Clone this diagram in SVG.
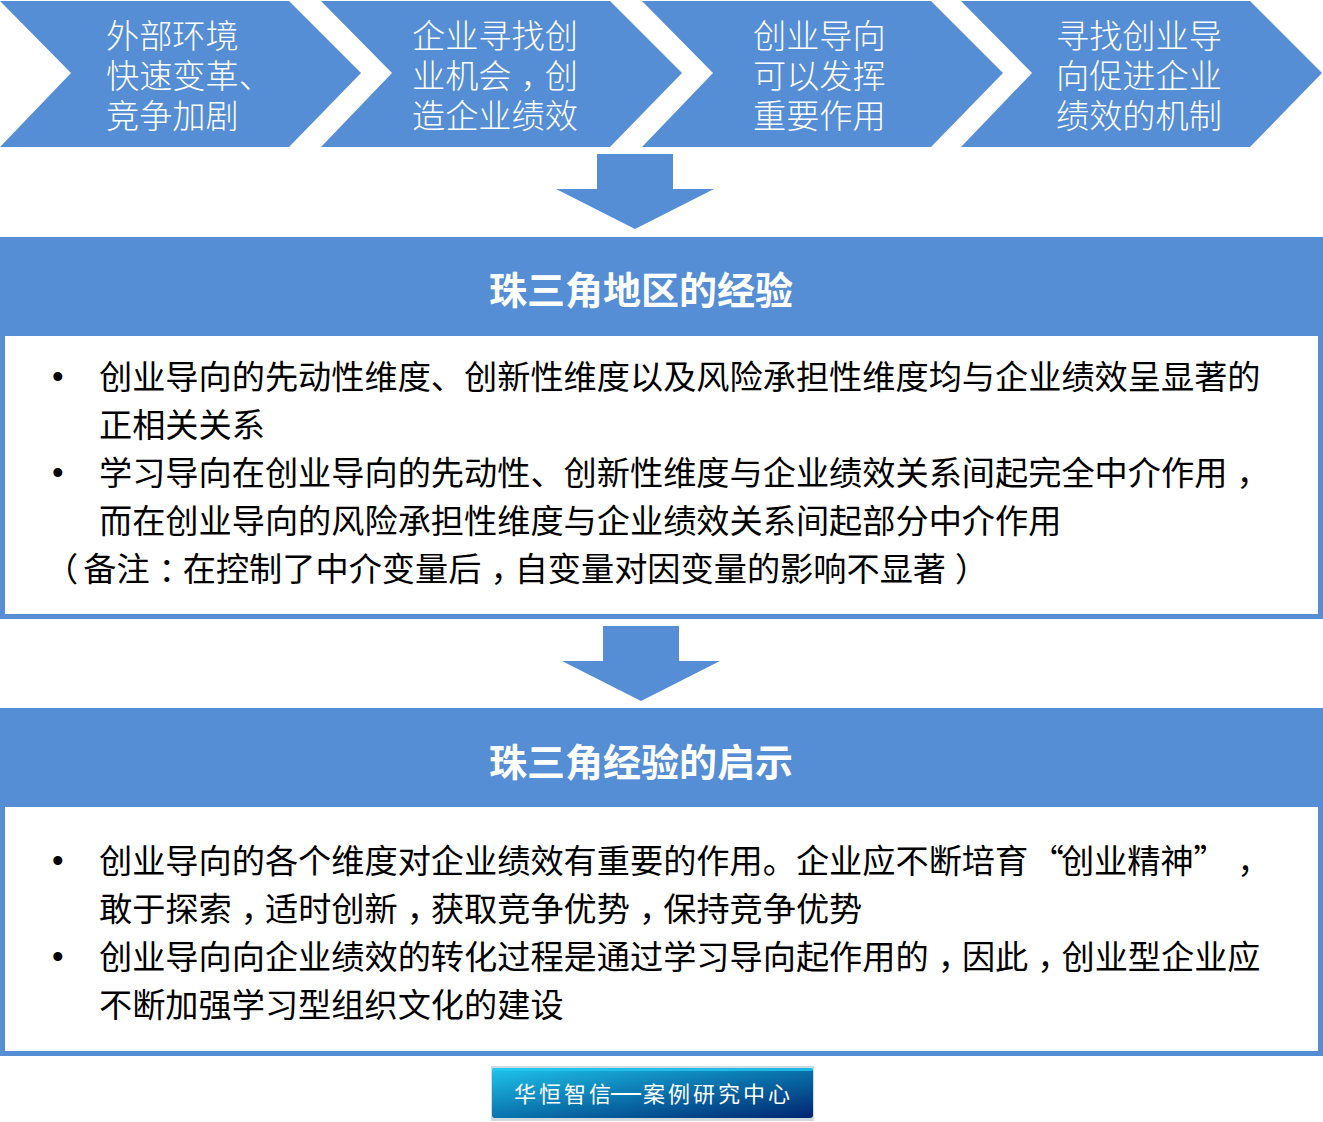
<svg xmlns="http://www.w3.org/2000/svg" width="1323" height="1122" viewBox="0 0 1323 1122">
<style>
text{font-family:"Noto Sans CJK SC","Noto Sans",sans-serif}
.f{fill:#558ed5}
.c{font-size:33.200px;fill:#fff;font-weight:300}
.h{font-size:38px;fill:#fff;font-weight:700;text-anchor:middle}
.b{font-size:33.200px;fill:#000;font-weight:400}
.d{font-size:33px;fill:#000;font-family:"Liberation Sans",sans-serif}
.box{fill:#fff;stroke:#558ed5;stroke-width:5}
</style>
<defs>
<linearGradient id="lg" x1="0" y1="0" x2="1" y2="1"><stop offset="0" stop-color="#1fc4ec"/><stop offset="0.5" stop-color="#0a74ad"/><stop offset="1" stop-color="#00256f"/></linearGradient>
<path id="chev" d="M0 1H289L361 73L289 147H0L71 73Z"/>
</defs>
<g id="connectors">
<path class="f" d="M597 154H673V189H714L635 229L556 189H597Z"/>
<path class="f" d="M603 626H679V661H720L641 701L562 661H603Z"/>
</g>
<g id="step1"><use href="#chev" class="f"/>
<text class="c" x="106" y="48">外部环境</text><text class="c" x="106" y="88">快速变革、</text><text class="c" x="106" y="128">竞争加剧</text></g>
<g id="step2"><use href="#chev" class="f" x="321"/>
<text class="c" x="412" y="48">企业寻找创</text><text class="c" x="412" y="88">业机会<tspan dx="9">，</tspan><tspan dx="-9">创</tspan></text><text class="c" x="412" y="128">造企业绩效</text></g>
<g id="step3"><use href="#chev" class="f" x="642"/>
<text class="c" x="753" y="48">创业导向</text><text class="c" x="753" y="88">可以发挥</text><text class="c" x="753" y="128">重要作用</text></g>
<g id="step4"><use href="#chev" class="f" x="961"/>
<text class="c" x="1056" y="48">寻找创业导</text><text class="c" x="1056" y="88">向促进企业</text><text class="c" x="1056" y="128">绩效的机制</text></g>
<g id="panel1">
<rect class="box" x="2.500" y="239.500" width="1318" height="377"/>
<rect class="f" x="0" y="237" width="1323" height="99" rx="3"/>
<text class="h" x="641" y="304">珠三角地区的经验</text>
<text class="d" x="52" y="388">•</text>
<text class="b" x="99" y="389">创业导向的先动性维度、创新性维度以及风险承担性维度均与企业绩效呈显著的</text>
<text class="b" x="99" y="437">正相关关系</text>
<text class="d" x="52" y="484">•</text>
<text class="b" x="99" y="485">学习导向在创业导向的先动性、创新性维度与企业绩效关系间起完全中介作用<tspan dx="9">，</tspan></text>
<text class="b" x="99" y="533">而在创业导向的风险承担性维度与企业绩效关系间起部分中介作用</text>
<text class="b" x="50" y="581"><tspan dx="-5">（</tspan><tspan dx="5">备</tspan>注<tspan dx="9">：</tspan><tspan dx="-9">在</tspan>控制了中介变量后<tspan dx="9">，</tspan><tspan dx="-9">自</tspan>变量对因变量的影响不显著<tspan dx="9">）</tspan></text>
</g>
<g id="panel2">
<rect class="box" x="2.500" y="710.500" width="1318" height="343"/>
<rect class="f" x="0" y="708" width="1323" height="99" rx="3"/>
<text class="h" x="641" y="776">珠三角经验的启示</text>
<text class="d" x="52" y="872">•</text>
<text class="b" x="99" y="873">创业导向的各个维度对企业绩效有重要的作用。企业应不断培育 <tspan dx="-5">“</tspan><tspan dx="-3">创</tspan>业精神” <tspan dx="3">，</tspan></text>
<text class="b" x="99" y="921">敢于探索<tspan dx="9">，</tspan><tspan dx="-9">适</tspan>时创新<tspan dx="9">，</tspan><tspan dx="-9">获</tspan>取竞争优势<tspan dx="9">，</tspan><tspan dx="-9">保</tspan>持竞争优势</text>
<text class="d" x="52" y="968">•</text>
<text class="b" x="99" y="969">创业导向向企业绩效的转化过程是通过学习导向起作用的<tspan dx="9">，</tspan><tspan dx="-9">因</tspan>此<tspan dx="9">，</tspan><tspan dx="-9">创</tspan>业型企业应</text>
<text class="b" x="99" y="1017">不断加强学习型组织文化的建设</text>
</g>
<g id="badge">
<rect x="491" y="1066" width="323" height="55" fill="#cfdbe0"/>
<rect x="492" y="1068" width="321" height="50" rx="3" fill="url(#lg)"/>
<rect x="492.500" y="1068" width="320" height="3" fill="#24c8f0" opacity=".8"/>
<text x="514" y="1102" style="font-size:22px;fill:#fff;letter-spacing:3px">华恒智信<tspan dx="-3" style="font-family:'Liberation Sans',sans-serif;font-size:30px;letter-spacing:0">—</tspan><tspan dx="2">案</tspan>例研究中心</text>
</g>
</svg>
